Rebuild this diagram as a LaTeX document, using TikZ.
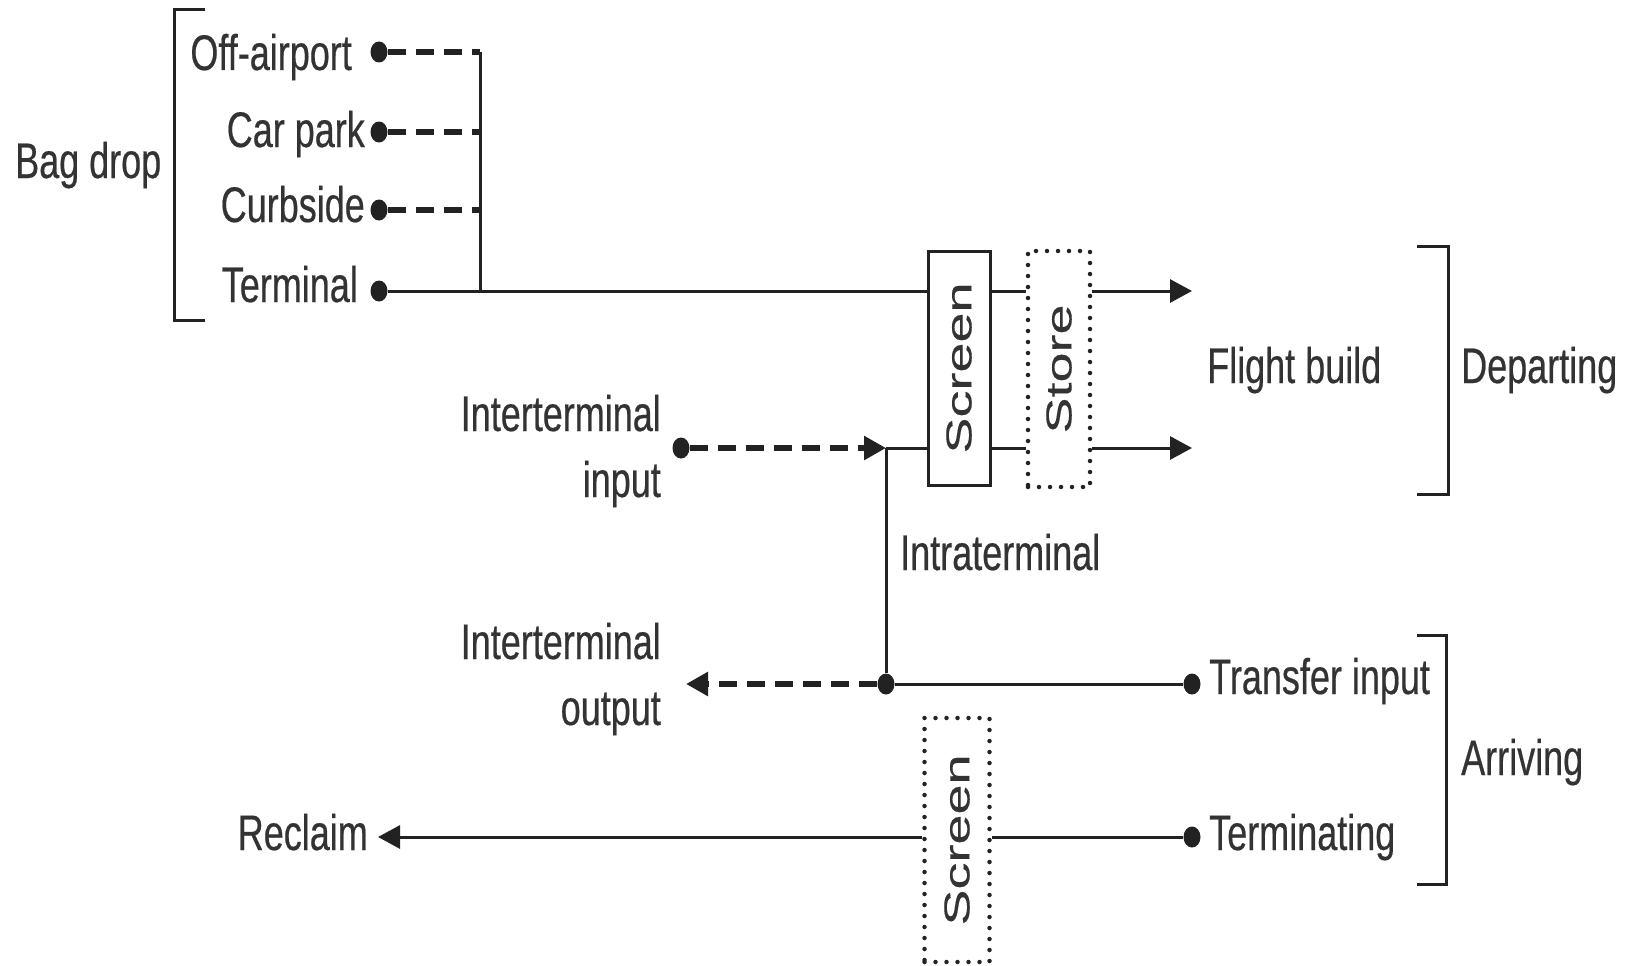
\documentclass[tikz,border=0pt]{standalone}
\usepackage{fontspec}
\setmainfont{Liberation Sans}
\newfontfamily\hfont[FakeStretch=0.72, FakeBold=0.4]{Liberation Sans}
\newfontfamily\vfont[FakeStretch=1.5, FakeBold=0.3]{Liberation Sans}
\usetikzlibrary{arrows.meta, shapes.geometric}
\definecolor{ink}{HTML}{222222}
\definecolor{txt}{HTML}{333333}
\tikzset{
  lbl/.style={inner sep=0pt, text=txt, font=\hfont\fontsize{50}{66}\selectfont},
  dot/.style={ellipse, fill=ink, inner sep=0pt, minimum width=17pt, minimum height=21pt},
  solidline/.style={ink, line width=3pt},
  dashline/.style={ink, line width=6pt, dash pattern=on 18pt off 10pt},
  tip/.style={-{Triangle[length=22pt,width=23pt]}},
  solidbox/.style={draw=ink, line width=3pt, inner sep=0pt, text=txt},
  dotbox/.style={draw=ink, line width=4.5pt, line cap=round, dash pattern=on 0pt off 11pt, inner sep=0pt, text=txt},
  bracket/.style={ink, line width=3pt}
}
\begin{document}
\begin{tikzpicture}[x=1pt, y=-1pt]
\useasboundingbox (0,0) rectangle (1625,966);
\fill[white] (0,0) rectangle (1625,966);

% labels
\node[lbl, anchor=base west] (bagdrop) at (15,178) {Bag drop};
\node[lbl, anchor=base east] (offa) at (352,70) {Off-airport};
\node[lbl, anchor=base east] (carp) at (365,147) {Car park};
\node[lbl, anchor=base east] (curb) at (365,222) {Curbside};
\node[lbl, anchor=base east] (term) at (358,302) {Terminal};
\node[lbl, anchor=base west] (fbuild) at (1207,383) {Flight build};
\node[lbl, anchor=base west] (depart) at (1461,383) {Departing};
\node[lbl, anchor=base east, align=right] (iin) at (661,497) {Interterminal\\input};
\node[lbl, anchor=base west] (intra) at (900,570) {Intraterminal};
\node[lbl, anchor=base east, align=right] (iout) at (661,725) {Interterminal\\output};
\node[lbl, anchor=base west] (trin) at (1209,694) {Transfer input};
\node[lbl, anchor=base west] (arr) at (1461,775) {Arriving};
\node[lbl, anchor=base west] (termg) at (1209,850) {Terminating};
\node[lbl, anchor=base east] (recl) at (368,850) {Reclaim};

% boxes
\node[solidbox, minimum width=62pt, minimum height=234pt] (scr) at (959,368) {\rotatebox{90}{\vfont\fontsize{36}{40}\selectfont Screen}};
\node[dotbox, minimum width=62pt, minimum height=236pt] (sto) at (1059,369) {\rotatebox{90}{\vfont\fontsize{36}{40}\selectfont Store}};
\node[dotbox, minimum width=65pt, minimum height=244pt] (scr2) at (957,840) {\rotatebox{90}{\vfont\fontsize{36}{40}\selectfont Screen}};

% dots
\node[dot] (doff) at (379,52) {};
\node[dot] (dcar) at (379,132) {};
\node[dot] (dcurb) at (379,210) {};
\node[dot] (dterm) at (379,291) {};
\node[dot] (dii) at (681,448) {};
\node[dot] (junc) at (886,684) {};
\node[dot] (dtr) at (1192,684) {};
\node[dot] (dtm) at (1192,837) {};

\coordinate (vtop) at (480,52);
\coordinate (ji) at (886,448);
\coordinate (fb1) at (1192,291);
\coordinate (fb2) at (1192,448);
\coordinate (ioa) at (686,684);
\coordinate (rca) at (378,837);

% bag drop feeders
\draw[dashline] (doff) -- (doff -| vtop);
\draw[dashline] (dcar) -- (dcar -| vtop);
\draw[dashline] (dcurb) -- (dcurb -| vtop);
\draw[solidline] (vtop) -- (vtop |- dterm);

% departing top line
\draw[solidline] (dterm) -- (dterm -| scr.west);
\draw[solidline] (dterm -| scr.east) -- (dterm -| sto.west);
\draw[solidline, tip] (dterm -| sto.east) -- (fb1);

% departing lower line
\draw[dashline, tip] (dii) -- (ji);
\draw[solidline] (ji) -- (ji -| scr.west);
\draw[solidline] (ji -| scr.east) -- (ji -| sto.west);
\draw[solidline, tip] (ji -| sto.east) -- (fb2);

% intraterminal
\draw[solidline] (ji) -- (junc);
\draw[dashline, tip] (junc) -- (ioa);
\draw[solidline] (junc) -- (dtr);

% reclaim
\draw[solidline] (dtm) -- (dtm -| scr2.east);
\draw[solidline, tip] (dtm -| scr2.west) -- (rca);

% brackets
\draw[bracket] (205,10) -- (174,10) -- (174,320) -- (205,320);
\draw[bracket] (1417,246) -- (1448,246) -- (1448,494) -- (1417,494);
\draw[bracket] (1417,635) -- (1446,635) -- (1446,884) -- (1417,884);
\end{tikzpicture}
\end{document}
